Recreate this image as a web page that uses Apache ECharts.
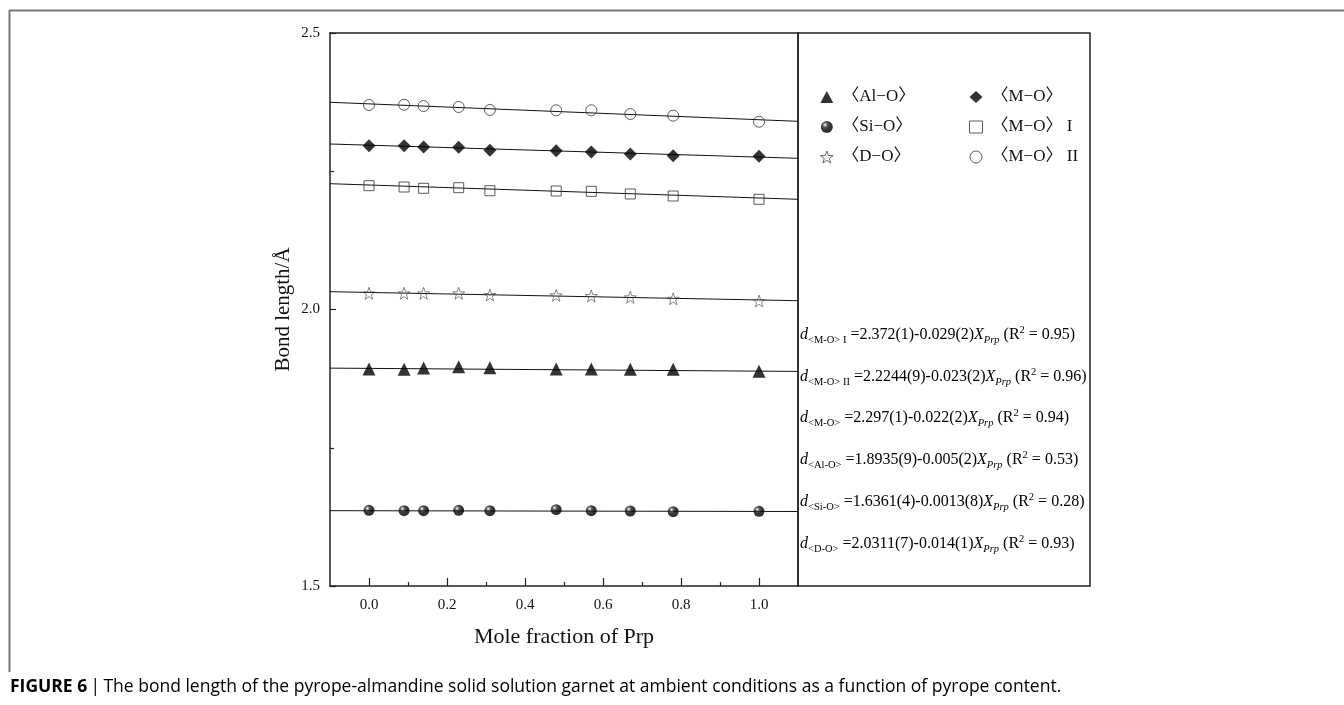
<!DOCTYPE html>
<html>
<head>
<meta charset="utf-8">
<title>Bond length vs Prp</title>
<script src="https://cdn.jsdelivr.net/npm/echarts@6/dist/echarts.min.js"></script>
<style>
  html, body { margin: 0; padding: 0; background: #fff; }
  #chart { width: 1344px; height: 705px; }
</style>
</head>
<body>
<div id="chart"></div>
<script>
// mole fraction of pyrope
const xPrp = [0, 0.09, 0.14, 0.23, 0.31, 0.48, 0.57, 0.67, 0.78, 1.0];
// bond lengths
const alO  = [1.8924, 1.8919, 1.8942, 1.8966, 1.8948, 1.8924, 1.8924, 1.8919, 1.8919, 1.8882];
const siO  = [1.6369, 1.6362, 1.6362, 1.6369, 1.6362, 1.6380, 1.6362, 1.6356, 1.6344, 1.6351];
const dO   = [2.0293, 2.0293, 2.0293, 2.0293, 2.0262, 2.0257, 2.0244, 2.0221, 2.0195, 2.0154];
const mO   = [2.2962, 2.2962, 2.2939, 2.2933, 2.2879, 2.2872, 2.2848, 2.2812, 2.2781, 2.2770];
const mOI  = [2.2239, 2.2215, 2.2192, 2.2203, 2.2148, 2.2143, 2.2137, 2.2089, 2.2052, 2.1993];
const mOII = [2.3698, 2.3703, 2.3680, 2.3662, 2.3608, 2.3602, 2.3602, 2.3535, 2.3505, 2.3396];

// fitted lines, value at x = -0.1 and x = 1.1
const fitX    = [-0.1, 1.1];
const fitAlO  = [1.8940, 1.8880];
const fitSiO  = [1.6362, 1.6347];
const fitDO   = [2.0322, 2.0159];
const fitMO   = [2.2993, 2.2734];
const fitMOI  = [2.2275, 2.1993];
const fitMOII = [2.3747, 2.3403];

const names = ['〈Al−O〉', '〈Si−O〉', '〈D−O〉', '〈M−O〉', '〈M−O〉 I', '〈M−O〉 II'];

const majorTicks = [0, 0.2, 0.4, 0.6, 0.8, 1.0];
const minorTicks = [0.1, 0.3, 0.5, 0.7, 0.9];

// equations in the right box
const eqSub  = ['<M-O> I', '<M-O> II', '<M-O>', '<Al-O>', '<Si-O>', '<D-O>'];
const eqBody = ['=2.372(1)-0.029(2)', '=2.2244(9)-0.023(2)', '=2.297(1)-0.022(2)',
                '=1.8935(9)-0.005(2)', '=1.6361(4)-0.0013(8)', '=2.0311(7)-0.014(1)'];
const eqR2   = ['0.95', '0.96', '0.94', '0.53', '0.28', '0.93'];

const caption = 'The bond length of the pyrope-almandine solid solution garnet at ambient conditions as a function of pyrope content.';

const SERIF = '"Liberation Serif", "Times New Roman", serif';
const LEGEND_FONT = '"Liberation Serif", "Noto Sans CJK SC", serif';
const SANS = '"Open Sans", "Noto Sans", sans-serif';
const STAR = 'path://M10,0L12.35,6.76L19.51,6.91L13.8,11.24L15.88,18.09L10,14L4.12,18.09L6.2,11.24L0.49,6.91L7.65,6.76Z';

function pairs(ys) {
  return xPrp.map((x, i) => [x, ys[i]]);
}
function fit(ys) {
  return fitX.map((x, i) => [x, ys[i]]);
}

const sphere = {
  type: 'radial', x: 0.35, y: 0.32, r: 0.7,
  colorStops: [{ offset: 0, color: '#ffffff' }, { offset: 0.28, color: '#333' }, { offset: 0.6, color: '#000' }, { offset: 1, color: '#000' }]
};

const markers = [
  { data: alO,  symbol: 'triangle', size: 13, style: { color: '#000' } },
  { data: siO,  symbol: 'circle',   size: 11, style: { color: sphere } },
  { data: dO,   symbol: STAR,       size: 12, style: { color: 'rgba(0,0,0,0)', borderColor: '#444', borderWidth: 0.8 } },
  { data: mO,   symbol: 'diamond',  size: 13, style: { color: '#000' } },
  { data: mOI,  symbol: 'rect',     size: 10, style: { color: 'rgba(0,0,0,0)', borderColor: '#333', borderWidth: 1 } },
  { data: mOII, symbol: 'circle',   size: 11, style: { color: 'rgba(0,0,0,0)', borderColor: '#333', borderWidth: 1 } }
];
const fits = [fitAlO, fitSiO, fitDO, fitMO, fitMOI, fitMOII];

const series = [];
fits.forEach((f, i) => {
  series.push({
    name: 'fit' + i, type: 'line', data: fit(f), showSymbol: false, silent: true, z: 1,
    lineStyle: { color: '#111', width: 1 }
  });
});
markers.forEach((m, i) => {
  series.push({
    name: names[i], type: 'scatter', data: pairs(m.data), symbol: m.symbol, symbolSize: m.size,
    itemStyle: m.style, z: 3
  });
});

// equations as rich text
const eqRows = [335, 377, 418, 460, 502, 544];
const graphics = [
  { type: 'line', shape: { x1: 9, y1: 10.5, x2: 1344, y2: 10.5 }, style: { stroke: '#777', lineWidth: 2 } },
  { type: 'line', shape: { x1: 9.5, y1: 10, x2: 9.5, y2: 672 }, style: { stroke: '#777', lineWidth: 2 } },
  { type: 'rect', shape: { x: 798, y: 33, width: 292, height: 553 }, style: { fill: 'none', stroke: '#222', lineWidth: 1.5 } }
];
eqSub.forEach((s, i) => {
  graphics.push({
    type: 'text', x: 800, y: eqRows[i],
    style: {
      text: '{i|d}{sub|' + s + '}{n| ' + eqBody[i] + '}{i|X}{isub|Prp}{n| (R}{sup|2}{n| = ' + eqR2[i] + ')}',
      verticalAlign: 'middle', textVerticalAlign: 'middle',
      rich: {
        i: { fontFamily: SERIF, fontStyle: 'italic', fontSize: 16, lineHeight: 21, color: '#111' },
        n: { fontFamily: SERIF, fontSize: 16, lineHeight: 21, color: '#111' },
        sub: { fontFamily: SERIF, fontSize: 10.5, lineHeight: 11, verticalAlign: 'bottom', color: '#111' },
        isub: { fontFamily: SERIF, fontStyle: 'italic', fontSize: 10.5, lineHeight: 11, verticalAlign: 'bottom', color: '#111' },
        sup: { fontFamily: SERIF, fontSize: 10.5, lineHeight: 11, verticalAlign: 'top', color: '#111' }
      }
    }
  });
});
graphics.push({
  type: 'text', x: 10, y: 687,
  style: {
    text: '{b|FIGURE 6} {s||} {n|' + caption + '}',
    verticalAlign: 'middle', textVerticalAlign: 'middle',
    rich: {
      b: { fontFamily: SANS, fontWeight: 'bold', fontSize: 17.5, color: '#222' },
      s: { fontFamily: SANS, fontSize: 17.5, color: '#333' },
      n: { fontFamily: SANS, fontSize: 17.5, color: '#222' }
    }
  }
});

const legendBase = {
  orient: 'vertical', itemWidth: 13, itemHeight: 12, itemGap: 12, selectedMode: false,
  itemStyle: { borderWidth: 1 },
  textStyle: { fontFamily: LEGEND_FONT, fontSize: 17, lineHeight: 18, color: '#111', padding: [0, 0, 0, 4] }
};

const option = {
  animation: false,
  backgroundColor: '#fff',
  grid: { left: 330, top: 33, right: 546, bottom: 119 },
  legend: [
    Object.assign({}, legendBase, { left: 815, top: 83, data: names.slice(0, 3) }),
    Object.assign({}, legendBase, { left: 964, top: 83, data: names.slice(3) })
  ],
  xAxis: [
    {
      type: 'value', min: -0.1, max: 1.1, position: 'bottom',
      name: 'Mole fraction of Prp', nameLocation: 'middle', nameGap: 40,
      nameTextStyle: { fontFamily: SERIF, fontSize: 22, color: '#111' },
      axisLine: { onZero: false, lineStyle: { color: '#222', width: 1.5 } },
      axisTick: { inside: true, length: 8, customValues: majorTicks, lineStyle: { color: '#222', width: 1.2 } },
      axisLabel: { customValues: majorTicks, margin: 12, fontFamily: SERIF, fontSize: 15, color: '#111',
                   formatter: v => v.toFixed(1) },
      splitLine: { show: false }
    },
    {
      type: 'value', min: -0.1, max: 1.1, position: 'bottom',
      axisLine: { show: false, onZero: false },
      axisTick: { inside: true, length: 4, customValues: minorTicks, lineStyle: { color: '#222', width: 1.2 } },
      axisLabel: { show: false },
      splitLine: { show: false }
    },
    {
      type: 'value', min: -0.1, max: 1.1, position: 'top',
      axisLine: { onZero: false, lineStyle: { color: '#222', width: 1.5 } },
      axisTick: { show: false }, axisLabel: { show: false }, splitLine: { show: false }
    }
  ],
  yAxis: [
    {
      type: 'value', min: 1.5, max: 2.5, interval: 0.5, position: 'left',
      name: 'Bond length/Å', nameLocation: 'middle', nameGap: 36,
      nameTextStyle: { fontFamily: SERIF, fontSize: 21, color: '#111' },
      axisLine: { onZero: false, lineStyle: { color: '#222', width: 1.5 } },
      axisTick: { inside: true, length: 6, lineStyle: { color: '#222', width: 1.2 } },
      minorTick: { show: true, splitNumber: 2, length: 4, lineStyle: { color: '#222', width: 1.2 } },
      axisLabel: { margin: 10, fontFamily: SERIF, fontSize: 15, color: '#111', formatter: v => v.toFixed(1) },
      splitLine: { show: false }
    },
    {
      type: 'value', min: 1.5, max: 2.5, position: 'right',
      axisLine: { show: true, onZero: false, lineStyle: { color: '#222', width: 1.5 } },
      axisTick: { show: false }, axisLabel: { show: false }, splitLine: { show: false }
    }
  ],
  series: series,
  graphic: graphics
};

const chart = echarts.init(document.getElementById('chart'));
chart.setOption(option);
</script>
</body>
</html>
